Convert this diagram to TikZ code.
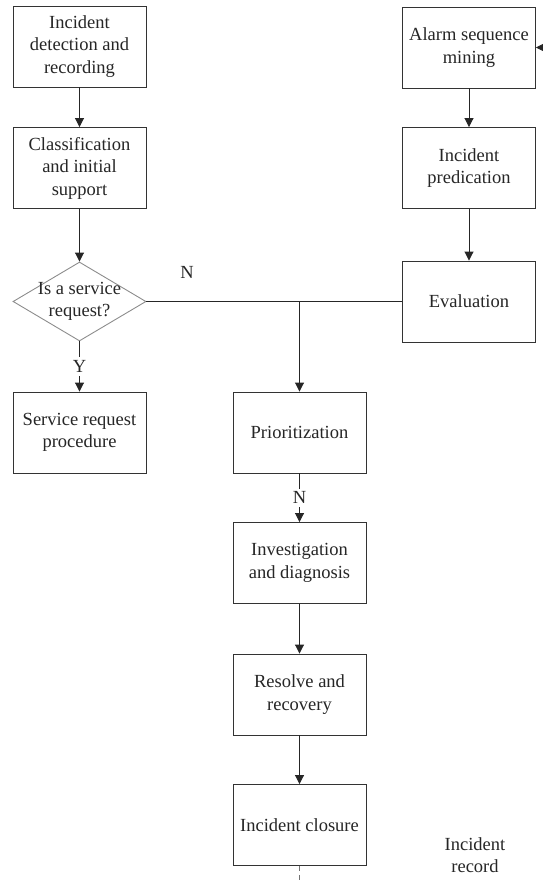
\documentclass[tikz,border=0pt]{standalone}
\usepackage{fontspec}
\setmainfont{Liberation Serif}
\usetikzlibrary{shapes.geometric,arrows.meta}

\begin{document}
\begin{tikzpicture}[x=1pt,y=-1pt,
  every node/.style={font=\fontsize{18.5}{22.5}\selectfont, text=black!85},
  stepbox/.style={draw=black!80, line width=0.9pt, fill=white, align=center,
    minimum width=133pt, minimum height=81pt, inner sep=2pt},
  decision/.style={draw=black!45, line width=0.9pt, diamond, inner sep=0pt,
    minimum width=133pt, minimum height=79pt},
  arr/.style={draw=black!85, line width=0.9pt, -{Triangle[length=9pt,width=9pt]}},
  link/.style={draw=black!85, line width=0.9pt},
  tag/.style={fill=white, inner sep=3pt}
]
\useasboundingbox (0,0) rectangle (543,883);

% left column
\node[stepbox] (detect)   at (79.5,46.5)  {Incident\\detection and\\recording};
\node[stepbox] (classify) at (79.5,168)   {Classification\\and initial\\support};
\node[decision] (query)   at (79.5,301.5) {};
\node[align=center, inner sep=0pt] (querytext) at (query) {Is a service\\request?};
\node[stepbox] (service)  at (79.5,432.5) {Service request\\procedure};

% right column
\node[stepbox] (alarm)    at (469,47.5)   {Alarm sequence\\mining};
\node[stepbox] (predict)  at (469,168)    {Incident\\predication};
\node[stepbox] (evaluate) at (469,301.5)  {Evaluation};

% middle column
\node[stepbox] (prior)    at (299.5,432.5) {Prioritization};
\node[stepbox] (diagnose) at (299.5,563)   {Investigation\\and diagnosis};
\node[stepbox] (resolve)  at (299.5,694.5) {Resolve and\\recovery};
\node[stepbox] (closure)  at (299.5,825)   {Incident closure};

\node[align=center] (record) at (475,855) {Incident\\record};
\node (nlabel) at (187,272) {N};

% connectors
\draw[arr] (detect) -- (classify);
\draw[arr] (classify) -- (query);
\draw[arr] (query.south) -- node[tag] (ylabel) {Y} (service.north);
\draw[arr] (alarm) -- (predict);
\draw[arr] (predict) -- (evaluate);

\coordinate (branch) at (299.5,301.5);
\draw[link] (query.east) -- (evaluate.west);
\draw[arr] (branch) -- (prior.north);

\draw[arr] (prior) -- node[tag] (nlabel2) {N} (diagnose);
\draw[arr] (diagnose) -- (resolve);
\draw[arr] (resolve) -- (closure);

\coordinate (feed) at (546,47.5);
\draw[arr] (feed) -- (alarm.east);

\coordinate (archive) at (299.5,883);
\draw[link, draw=black!55, dash pattern=on 5pt off 4pt] (closure.south) -- (archive);
\end{tikzpicture}
\end{document}
